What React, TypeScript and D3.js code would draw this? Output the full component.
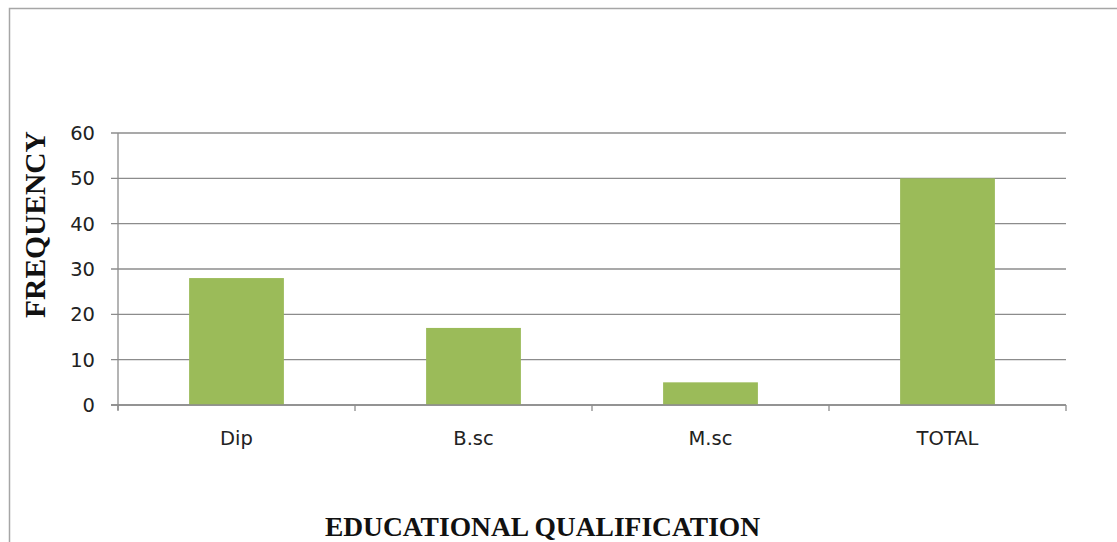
import React from "react";
import * as d3 from "d3";

const categories = ["Dip", "B.sc", "M.sc", "TOTAL"];
const values = [28, 17, 5, 50];
const yTicks = [0, 10, 20, 30, 40, 50, 60];
const xTitle = "EDUCATIONAL QUALIFICATION";
const yTitle = "FREQUENCY";

export default function App() {
  const W = 1117, H = 542;
  const left = 118, right = 1066, top = 133, bottom = 405;
  const x = d3.scaleBand().domain(categories).range([left, right]).paddingInner(0).paddingOuter(0);
  const y = d3.scaleLinear().domain([0, 60]).range([bottom, top]);
  const barW = x.bandwidth() * 0.4;
  const grid = "#8c8c8c";
  const labelFont = "'DejaVu Sans', Verdana, sans-serif";
  const titleFont = "'Liberation Serif', 'Times New Roman', serif";
  const boundaries = categories.map((c) => x(c)!).concat([right]);
  return (
    <svg width={W} height={H} style={{ position: "absolute", left: 0, top: 0, background: "#fff" }}>
      <rect x={9.5} y={8.5} width={W + 10} height={H + 10} fill="none" stroke="#a6a6a6" strokeWidth={1.5} />
      {yTicks.map((t) => (
        <g key={t}>
          <line x1={left - 7} x2={right} y1={y(t)} y2={y(t)} stroke={grid} strokeWidth={1.3} />
          <text x={95} y={y(t)} dy="0.36em" textAnchor="end" fontFamily={labelFont} fontSize={19.5} fill="#222">{t}</text>
        </g>
      ))}
      <line x1={left} x2={left} y1={top} y2={bottom + 5} stroke={grid} strokeWidth={1.3} />
      {boundaries.map((b, i) => (
        <line key={i} x1={b} x2={b} y1={bottom} y2={bottom + 6} stroke={grid} strokeWidth={1.3} />
      ))}
      {categories.map((c, i) => (
        <rect key={c} x={x(c)! + (x.bandwidth() - barW) / 2} y={y(values[i])} width={barW} height={bottom - y(values[i])} fill="#9BBB59" />
      ))}
      <line x1={left - 7} x2={right} y1={bottom} y2={bottom} stroke={grid} strokeWidth={1.3} />
      {categories.map((c) => (
        <text key={c} x={x(c)! + x.bandwidth() / 2} y={445} textAnchor="middle" fontFamily={labelFont} fontSize={19.5} fill="#222">{c}</text>
      ))}
      <text transform={`translate(45, 224.5) rotate(-90)`} textAnchor="middle" fontFamily={titleFont} fontWeight="bold" fontSize={29.5} fill="#111">{yTitle}</text>
      <text x={542.5} y={536} textAnchor="middle" fontFamily={titleFont} fontWeight="bold" fontSize={27.5} fill="#111">{xTitle}</text>
    </svg>
  );
}
